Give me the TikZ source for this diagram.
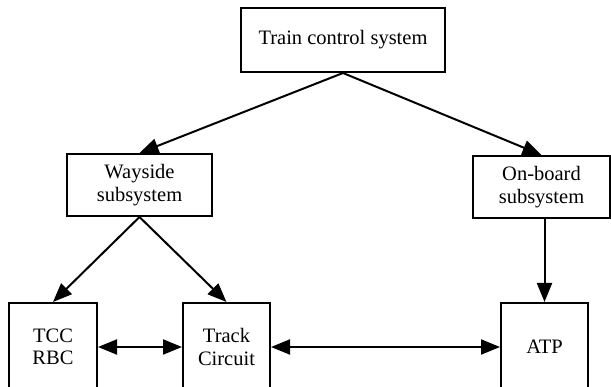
\documentclass[tikz,border=0pt]{standalone}
\usepackage{fontspec}
\setmainfont{Liberation Serif}
\usetikzlibrary{arrows.meta}
\begin{document}
\begin{tikzpicture}[x=1pt,y=1pt,
  box/.style={draw,line width=2pt,inner sep=0pt,align=center,font=\fontsize{20.5}{22.5}\selectfont},
  arr/.style={line width=2pt,-{Triangle[length=19pt,width=15pt]}},
  darr/.style={line width=2pt,{Triangle[length=19pt,width=15pt]}-{Triangle[length=19pt,width=15pt]}}]
\useasboundingbox (0,0) rectangle (611,-387);
\clip (0,0) rectangle (611,-387);
\node[box,minimum width=204pt,minimum height=64pt] (top) at (343,-40) {Train control system};
\node[box,minimum width=145pt,minimum height=62pt] (way) at (139.5,-185) {Wayside\\subsystem};
\node[box,minimum width=137pt,minimum height=62pt] (onb) at (541.5,-187) {On-board\\subsystem};
\node[box,minimum width=88pt,minimum height=88pt] (tcc) at (53,-347) {TCC\\RBC};
\node[box,minimum width=87pt,minimum height=88pt] (trk) at (226.5,-347) {Track\\Circuit};
\node[box,minimum width=87pt,minimum height=88pt] (atp) at (544.5,-347) {ATP};
\draw[arr] (top.south) -- (way.north);
\draw[arr] (top.south) -- (onb.north);
\draw[arr] (way.south) -- (tcc.north);
\draw[arr] (way.south) -- (trk.north);
\draw[arr] (atp.north |- onb.south) -- (atp.north);
\draw[darr] (tcc.east) -- (trk.west);
\draw[darr] (trk.east) -- (atp.west);
\end{tikzpicture}
\end{document}
